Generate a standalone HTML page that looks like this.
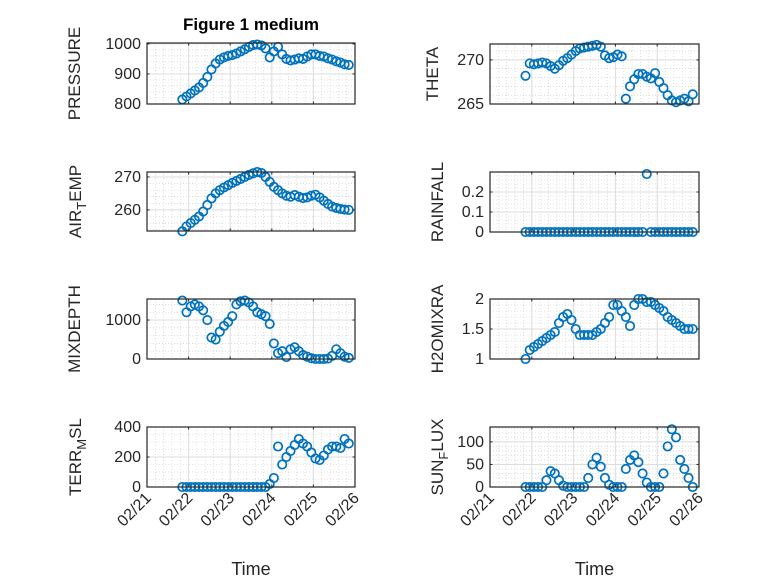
<!DOCTYPE html>
<html><head><meta charset="utf-8"><style>
body{margin:0;background:#fff}
svg{display:block;font-family:"Liberation Sans",sans-serif}
</style></head><body>
<svg id="fig" width="778" height="583" viewBox="0 0 778 583">
<rect width="778" height="583" fill="#fff"/>
<text x="251" y="30" text-anchor="middle" font-weight="bold" font-size="17" fill="#000">Figure 1 medium</text>
</svg>
<script>
const times = [21.85,21.95,22.05,22.15,22.25,22.35,22.45,22.55,22.65,22.75,22.85,22.95,23.05,23.15,23.25,23.35,23.45,23.55,23.65,23.75,23.85,23.95,24.05,24.15,24.25,24.35,24.45,24.55,24.65,24.75,24.85,24.95,25.05,25.15,25.25,25.35,25.45,25.55,25.65,25.75,25.85];
const xTickLabels = ["02/21","02/22","02/23","02/24","02/25","02/26"];
const pressure = [815,825,835,845,855,870,890,915,935,948,955,960,963,968,975,982,990,996,998,995,985,955,975,990,965,950,945,948,952,950,958,965,965,960,958,952,948,942,938,932,930];
const theta = [268.2,269.6,269.5,269.6,269.7,269.6,269.3,269.0,269.4,269.9,270.2,270.6,271.0,271.3,271.4,271.5,271.6,271.7,271.5,270.5,270.2,270.3,270.6,270.4,265.6,267.0,267.8,268.4,268.4,268.1,267.9,268.5,267.5,266.8,266.0,265.4,265.2,265.4,265.6,265.3,266.1];
const airTemp = [253.5,255,256,257,258,259.5,261.5,263.5,265,266,266.8,267.5,268.2,268.8,269.4,270,270.6,271.1,271.5,271.2,270,268.5,267,266,265,264.3,264,264.5,264,263.6,263.8,264.3,264.6,263.8,262.8,261.8,261,260.6,260.3,260.1,260];
const rainfall = [0,0,0,0,0,0,0,0,0,0,0,0,0,0,0,0,0,0,0,0,0,0,0,0,0,0,0,0,0,0.29,0,0,0,0,0,0,0,0,0,0,0];
const mixDepth = [1500,1200,1350,1400,1350,1250,1000,550,500,700,850,950,1100,1400,1480,1500,1450,1350,1200,1150,1100,900,400,150,200,50,250,300,200,100,60,20,0,0,0,10,80,250,150,60,30];
const h2oMix = [1.0,1.15,1.2,1.25,1.3,1.35,1.4,1.45,1.6,1.7,1.75,1.65,1.5,1.4,1.4,1.4,1.4,1.45,1.5,1.6,1.7,1.9,1.9,1.8,1.7,1.55,1.9,2.0,2.0,1.95,1.95,1.9,1.85,1.8,1.7,1.65,1.6,1.55,1.5,1.5,1.5];
const terrMsl = [0,0,0,0,0,0,0,0,0,0,0,0,0,0,0,0,0,0,0,0,0,20,60,270,150,200,240,280,320,290,270,230,190,180,210,250,270,270,260,320,290];
const sunFlux = [0,0,0,0,0,15,35,30,15,3,0,0,0,0,0,20,50,65,45,20,5,0,0,0,40,60,70,55,30,10,0,0,0,30,90,128,110,60,40,20,0];

const NS='http://www.w3.org/2000/svg';
const svg=document.getElementById('fig');
function mk(tag,attrs,parent){const e=document.createElementNS(NS,tag);for(const k in attrs)e.setAttribute(k,attrs[k]);(parent||svg).appendChild(e);return e;}

const panels=[
 {name:'pressure',x0:147,x1:355,y0:43,y1:104,ymin:800,ymax:1003,yt:[800,900,1000],ymn:20,data:pressure,lab:['PRESSURE'],lx:80,xl:false},
 {name:'theta',x0:490,x1:699,y0:44,y1:104,ymin:265,ymax:271.8,yt:[265,270],ymn:1,data:theta,lab:['THETA'],lx:438,xl:false},
 {name:'air-temp',x0:147,x1:355,y0:172,y1:231,ymin:253.6,ymax:271.5,yt:[260,270],ymn:2,data:airTemp,lab:['AIR','T','EMP'],lx:81,xl:false},
 {name:'rainfall',x0:490,x1:699,y0:172,y1:232,ymin:0,ymax:0.3,yt:[0,0.1,0.2],ymn:0.02,data:rainfall,lab:['RAINFALL'],lx:443,xl:false},
 {name:'mixdepth',x0:147,x1:355,y0:299,y1:359,ymin:0,ymax:1540,yt:[0,1000],ymn:200,data:mixDepth,lab:['MIXDEPTH'],lx:80,xl:false},
 {name:'h2omixra',x0:490,x1:699,y0:299,y1:359,ymin:1,ymax:2,yt:[1,1.5,2],ymn:0.1,data:h2oMix,lab:['H2OMIXRA'],lx:443,xl:false},
 {name:'terr-msl',x0:147,x1:355,y0:427,y1:487,ymin:0,ymax:400,yt:[0,200,400],ymn:50,data:terrMsl,lab:['TERR','M','SL'],lx:81,xl:true},
 {name:'sun-flux',x0:490,x1:699,y0:427,y1:487,ymin:0,ymax:133,yt:[0,50,100],ymn:10,data:sunFlux,lab:['SUN','F','LUX'],lx:443,xl:true}
];

panels.forEach(p=>{
 const g=mk('g',{});
 
 
 const X=t=>p.x0+(t-21)/5*(p.x1-p.x0);
 const Y=v=>p.y1-(v-p.ymin)/(p.ymax-p.ymin)*(p.y1-p.y0);
 for(let d=21;d<26;d++)for(let k=1;k<5;k++){const x=X(d+k/5);mk('line',{x1:x,x2:x,y1:p.y0,y2:p.y1,stroke:'#c8c8c8','stroke-width':0.6,'stroke-dasharray':'1 2'},g);}
 for(let v=Math.ceil(p.ymin/p.ymn)*p.ymn;v<=p.ymax+1e-9;v+=p.ymn){const y=Y(v);mk('line',{x1:p.x0,x2:p.x1,y1:y,y2:y,stroke:'#c8c8c8','stroke-width':0.6,'stroke-dasharray':'1 2'},g);}
 for(let d=21;d<=26;d++){const x=X(d);mk('line',{x1:x,x2:x,y1:p.y0,y2:p.y1,stroke:'#dcdcdc','stroke-width':1},g);}
 p.yt.forEach(v=>{const y=Y(v);mk('line',{x1:p.x0,x2:p.x1,y1:y,y2:y,stroke:'#dcdcdc','stroke-width':1},g);});
 p.data.forEach((v,i)=>{
  const c=mk('circle',{cx:X(times[i]),cy:Y(v),r:4.2,fill:'none',stroke:'#0072BD','stroke-width':1.7},g);
  
  
 });
 mk('rect',{x:p.x0,y:p.y0,width:p.x1-p.x0,height:p.y1-p.y0,fill:'none',stroke:'#262626','stroke-width':1.2},g);
 for(let d=21;d<=26;d++){const x=X(d);mk('line',{x1:x,x2:x,y1:p.y1,y2:p.y1-2.5,stroke:'#262626'},g);mk('line',{x1:x,x2:x,y1:p.y0,y2:p.y0+2.5,stroke:'#262626'},g);}
 p.yt.forEach(v=>{const y=Y(v);
  mk('line',{x1:p.x0,x2:p.x0+2.5,y1:y,y2:y,stroke:'#262626'},g);mk('line',{x1:p.x1,x2:p.x1-2.5,y1:y,y2:y,stroke:'#262626'},g);
  const t=mk('text',{x:p.x0-6,y:y+5,'text-anchor':'end','font-size':16,fill:'#262626'},g);t.textContent=String(v);
  
  
 });
 const yl=mk('text',{transform:`translate(${p.lx},${(p.y0+p.y1)/2}) rotate(-90)`,'text-anchor':'middle','font-size':17,fill:'#262626'},g);
 
 
 if(p.lab.length===1){yl.textContent=p.lab[0];}
 else{const a=mk('tspan',{},yl);a.textContent=p.lab[0];const b=mk('tspan',{dy:5,'font-size':13},yl);b.textContent=p.lab[1];const c=mk('tspan',{dy:-5},yl);c.textContent=p.lab[2];}
 if(p.xl){
  xTickLabels.forEach((s,i)=>{const x=X(21+i);
   const t=mk('text',{transform:`translate(${x+5},${p.y1+12}) rotate(-45)`,'text-anchor':'end','font-size':16,fill:'#262626'},g);t.textContent=s;
   
   
  });
  const xt=mk('text',{x:(p.x0+p.x1)/2,y:575,'text-anchor':'middle','font-size':18,fill:'#262626'},g);xt.textContent='Time';
  
  
 }
});
</script>
</body></html>
